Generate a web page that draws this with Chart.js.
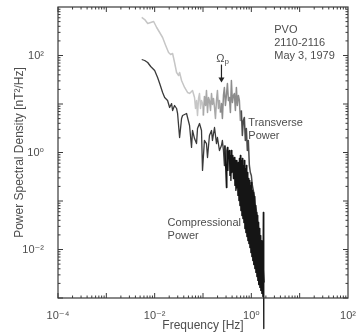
<!DOCTYPE html>
<html>
<head>
<meta charset="utf-8">
<script src="https://cdn.jsdelivr.net/npm/chart.js@4.4.1/dist/chart.umd.min.js"></script>
<style>
  html, body { margin: 0; padding: 0; background: #fff; }
</style>
</head>
<body>
<canvas id="psdChart" width="356" height="332"></canvas>
<script>
// Compressional power spectrum: frequency [Hz] and power [nT^2/Hz]
const compFreq = [
  0.00540, 0.00622, 0.00718, 0.00828, 0.0100, 0.0115, 0.0127, 0.0146, 0.0161, 0.0185,
  0.0204, 0.0224, 0.0235, 0.0258, 0.0284, 0.0298, 0.0328, 0.0360, 0.0378, 0.0416,
  0.0457, 0.0479, 0.0527, 0.0579, 0.0607, 0.0668, 0.0735, 0.0770, 0.0847, 0.0931,
  0.0977, 0.107, 0.118, 0.124, 0.136, 0.150, 0.157, 0.173, 0.190, 0.199,
  0.219, 0.241, 0.252, 0.265, 0.277, 0.284, 0.291, 0.305, 0.312, 0.320,
  0.328, 0.336, 0.352, 0.360, 0.369, 0.378, 0.387, 0.396, 0.406, 0.416,
  0.426, 0.436, 0.446, 0.457, 0.468, 0.479, 0.491, 0.503, 0.514, 0.527,
  0.540, 0.553, 0.566, 0.580, 0.593, 0.607, 0.622, 0.637, 0.652, 0.668,
  0.684, 0.700, 0.717, 0.734, 0.752, 0.770, 0.789, 0.808, 0.827, 0.847,
  0.867, 0.888, 0.910, 0.932, 0.954, 0.977, 1.00, 1.024, 1.05, 1.07,
  1.10, 1.12, 1.15, 1.18, 1.21, 1.24, 1.27, 1.30, 1.33, 1.36,
  1.39, 1.42, 1.46, 1.50, 1.53, 1.57, 1.61, 1.65, 1.69, 1.73,
  1.77, 1.81
];
const compPower = [
  82.7, 78.9, 71.7, 59.3, 49.1, 35.2, 26.5, 17.3, 13.6, 11.8,
  8.47, 10.2, 7.35, 9.31, 8.08, 6.37, 2.04, 5.02, 5.79, 6.08,
  6.37, 5.27, 3.60, 1.27, 2.84, 1.94, 1.53, 3.12, 3.96, 2.84,
  0.426, 1.77, 1.53, 0.789, 2.24, 2.84, 1.77, 3.28, 1.53, 2.04,
  1.10, 1.39, 1.77, 1.10, 0.540, 1.39, 0.684, 0.190, 1.10, 1.27,
  0.426, 1.00, 1.10, 0.336, 0.867, 0.265, 1.10, 0.387, 0.540, 0.867,
  0.291, 0.752, 0.789, 0.209, 0.684, 0.165, 0.190, 0.684, 0.540, 0.130,
  0.622, 0.102, 0.752, 0.0808, 0.867, 0.0637, 0.684, 0.0502, 0.752, 0.0436,
  0.540, 0.0360, 0.684, 0.0271, 0.468, 0.0224, 0.540, 0.0185, 0.387, 0.0153,
  0.291, 0.0133, 0.265, 0.0110, 0.209, 0.00867, 0.241, 0.00718, 0.165, 0.00593,
  0.150, 0.00491, 0.124, 0.00406, 0.0808, 0.00336, 0.0579, 0.00277, 0.0502, 0.00230,
  0.0360, 0.00190, 0.0271, 0.00165, 0.0194, 0.00143, 0.0153, 0.00124, 0.0110, 0.00107,
  0.0579, 0.000235
];

// Transverse power spectrum
const transFreq = [
  0.00540, 0.00622, 0.00718, 0.00828, 0.00953, 0.0110, 0.0127, 0.0146, 0.0169, 0.0194,
  0.0214, 0.0235, 0.0258, 0.0284, 0.0313, 0.0328, 0.0360, 0.0416, 0.0479, 0.0527,
  0.0607, 0.0668, 0.0700, 0.0735, 0.0770, 0.0808, 0.0847, 0.0888, 0.0931, 0.0977,
  0.102, 0.107, 0.113, 0.118, 0.124, 0.130, 0.136, 0.143, 0.150, 0.157,
  0.165, 0.173, 0.181, 0.190, 0.199, 0.209, 0.219, 0.230, 0.241, 0.252,
  0.265, 0.277, 0.291, 0.305, 0.320, 0.336, 0.352, 0.369, 0.387, 0.406,
  0.426, 0.446, 0.468, 0.491, 0.514, 0.540, 0.566, 0.593, 0.622, 0.652,
  0.684, 0.717, 0.752, 0.789, 0.827, 0.867, 0.910, 0.954, 1.00, 1.05,
  1.10, 1.15, 1.21, 1.27, 1.33, 1.39, 1.46, 1.53, 1.61, 1.69,
  1.77, 1.85
];
const transPower = [
  608, 552, 457, 479, 502, 378, 298, 235, 161, 115,
  105, 110, 71.7, 44.6, 38.7, 44.6, 30.5, 21.9, 17.3, 16.5,
  19.0, 13.6, 8.08, 11.8, 5.79, 13.0, 16.5, 8.08, 11.8, 10.2,
  5.79, 14.3, 9.31, 19.0, 6.68, 13.6, 11.8, 7.35, 16.5, 9.77,
  13.0, 8.47, 5.02, 11.8, 19.0, 8.08, 11.8, 6.68, 10.2, 5.02,
  15.0, 21.9, 9.31, 15.0, 26.5, 11.8, 13.6, 6.68, 30.5, 10.7,
  15.0, 16.5, 7.35, 21.9, 9.31, 15.0, 11.8, 4.57, 7.35, 2.24,
  4.57, 5.27, 1.77, 3.12, 1.10, 1.77, 0.540, 0.387, 0.336, 0.209,
  0.165, 0.130, 0.0808, 0.0637, 0.0396, 0.0313, 0.0194, 0.0153, 0.00953, 0.00652,
  0.00369, 0.00209
];

const xTickValues = [1e-4, 1e-2, 1, 1e2];
const xTickLabels = ['10⁻⁴', '10⁻²', '10⁰', '10²'];
const yTickValues = [1e-2, 1, 1e2];
const yTickLabels = ['10⁻²', '10⁰', '10²'];

// proton gyrofrequency marker
const omegaP = 0.241;

const FONT = "'Liberation Sans', Arial, 'DejaVu Sans', sans-serif";
const TEXT = '#4d4d4d';

// text notes placed in data coordinates (left edge, first line centre)
const notes = [
  { f: 2.98, p: 344, lines: ['PVO', '2110-2116', 'May 3, 1979'] },
  { f: 0.867, p: 4.15, lines: ['Transverse', 'Power'] },
  { f: 0.0185, p: 0.036, lines: ['Compressional', 'Power'] }
];

function toPoints(xs, ys) {
  return xs.map((f, i) => ({ x: f, y: ys[i] }));
}

// box frame with inward log ticks on all four sides
const frameTicks = {
  id: 'frameTicks',
  afterDatasetsDraw(chart) {
    const { ctx, chartArea: a, scales: { x, y } } = chart;
    ctx.save();
    ctx.strokeStyle = '#3a3a3a';
    ctx.lineWidth = 1.2;
    ctx.strokeRect(a.left, a.top, a.right - a.left, a.bottom - a.top);
    ctx.lineWidth = 1;
    ctx.beginPath();
    for (let d = -4; d < 2; d++) {
      for (let m = 1; m < 10; m++) {
        const px = x.getPixelForValue(m * Math.pow(10, d));
        const len = m === 1 ? 5 : 2.5;
        ctx.moveTo(px, a.bottom); ctx.lineTo(px, a.bottom - len);
        ctx.moveTo(px, a.top); ctx.lineTo(px, a.top + len);
      }
    }
    for (let d = -3; d < 3; d++) {
      for (let m = 1; m < 10; m++) {
        const py = y.getPixelForValue(m * Math.pow(10, d));
        const len = m === 1 ? 5 : 2.5;
        ctx.moveTo(a.left, py); ctx.lineTo(a.left + len, py);
        ctx.moveTo(a.right, py); ctx.lineTo(a.right - len, py);
      }
    }
    ctx.stroke();
    ctx.restore();
  }
};

const notesPlugin = {
  id: 'notes',
  afterDraw(chart) {
    const { ctx, scales: { x, y } } = chart;
    ctx.save();
    ctx.fillStyle = TEXT;
    ctx.font = '11px ' + FONT;
    ctx.textAlign = 'left';
    ctx.textBaseline = 'middle';
    notes.forEach(n => {
      const px = x.getPixelForValue(n.f);
      const py = y.getPixelForValue(n.p);
      n.lines.forEach((t, i) => ctx.fillText(t, px, py + i * 13));
    });

    // Omega_p arrow
    const ax = x.getPixelForValue(omegaP);
    const top = y.getPixelForValue(65);
    const tip = y.getPixelForValue(27.7);
    ctx.strokeStyle = '#222';
    ctx.fillStyle = '#222';
    ctx.lineWidth = 1.2;
    ctx.beginPath();
    ctx.moveTo(ax, top);
    ctx.lineTo(ax, tip - 4);
    ctx.stroke();
    ctx.beginPath();
    ctx.moveTo(ax - 3, tip - 5);
    ctx.lineTo(ax + 3, tip - 5);
    ctx.lineTo(ax, tip);
    ctx.closePath();
    ctx.fill();

    const ly = y.getPixelForValue(86.7);
    ctx.fillStyle = TEXT;
    ctx.font = '11px ' + FONT;
    ctx.textAlign = 'right';
    ctx.fillText('Ω', ax + 3, ly);
    ctx.font = '8px ' + FONT;
    ctx.textAlign = 'left';
    ctx.fillText('p', ax + 3, ly + 3);
    ctx.restore();
  }
};

function transColor(c) {
  const f = c.p0.parsed.x;
  if (f < 0.1) return '#c6c6c6';
  if (f < 0.22) return '#a8a8a8';
  if (f < 0.6) return '#8c8c8c';
  return '#4a4a4a';
}

new Chart(document.getElementById('psdChart'), {
  type: 'line',
  data: {
    datasets: [
      {
        label: 'Compressional Power',
        data: toPoints(compFreq, compPower),
        order: 0,
        clip: false,
        borderWidth: 1.3,
        borderJoinStyle: 'round',
        borderColor: '#151515',
        segment: {
          borderColor: c => c.p0.parsed.x < 0.28 ? '#3a3a3a' : '#151515'
        },
        pointRadius: 0,
        tension: 0
      },
      {
        label: 'Transverse Power',
        data: toPoints(transFreq, transPower),
        order: 1,
        borderWidth: 1.5,
        borderJoinStyle: 'round',
        borderColor: '#c6c6c6',
        segment: { borderColor: transColor },
        pointRadius: 0,
        tension: 0
      }
    ]
  },
  options: {
    responsive: false,
    animation: false,
    layout: { padding: { top: 7, right: 8, left: 0, bottom: 0 } },
    plugins: {
      legend: { display: false },
      tooltip: { enabled: false }
    },
    scales: {
      x: {
        type: 'logarithmic',
        min: 1e-4,
        max: 1e2,
        grid: { display: false },
        border: { display: false },
        afterBuildTicks: s => { s.ticks = xTickValues.map(v => ({ value: v })); },
        afterFit: s => { s.height = 34; s.paddingLeft = 0; s.paddingRight = 0; },
        ticks: {
          autoSkip: false,
          maxRotation: 0,
          padding: 3,
          color: TEXT,
          font: { family: FONT, size: 11 },
          callback: (v, i) => xTickLabels[i]
        },
        title: {
          display: true,
          text: 'Frequency [Hz]',
          color: TEXT,
          font: { family: FONT, size: 12, lineHeight: 1 },
          padding: { top: 0, bottom: 0 }
        }
      },
      y: {
        type: 'logarithmic',
        min: 1e-3,
        max: 1e3,
        grid: { display: false },
        border: { display: false },
        afterBuildTicks: s => { s.ticks = yTickValues.map(v => ({ value: v })); },
        afterFit: s => { s.width = 58; s.paddingTop = 0; s.paddingBottom = 0; },
        ticks: {
          autoSkip: false,
          padding: 6,
          color: TEXT,
          font: { family: FONT, size: 11 },
          callback: (v, i) => yTickLabels[i]
        },
        title: {
          display: true,
          text: 'Power Spectral Density [nT²/Hz]',
          color: TEXT,
          font: { family: FONT, size: 12, lineHeight: 1 },
          padding: { top: 14, bottom: 0 }
        }
      }
    }
  },
  plugins: [frameTicks, notesPlugin]
});
</script>
</body>
</html>
